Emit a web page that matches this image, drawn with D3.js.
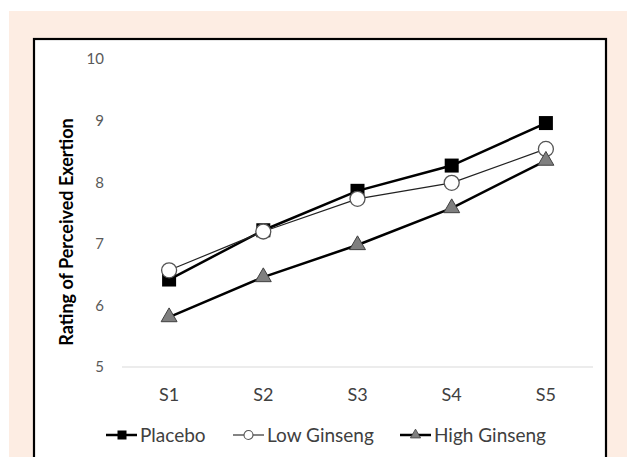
<!DOCTYPE html>
<html>
<head>
<meta charset="utf-8">
<script src="https://cdn.jsdelivr.net/npm/d3@7"></script>
<style>
  body { margin: 0; background: #ffffff; }
  svg { display: block; font-family: Lato, "Open Sans", sans-serif; }
</style>
</head>
<body>
<svg id="chart" width="627" height="457"></svg>
<script>
var sessions = ["S1", "S2", "S3", "S4", "S5"];
var yTicks = [5, 6, 7, 8, 9, 10];
var placebo = [6.42, 7.22, 7.86, 8.27, 8.96];
var lowGinseng = [6.57, 7.20, 7.73, 7.99, 8.54];
var highGinseng = [5.81, 6.46, 6.98, 7.58, 8.35];
var seriesNames = ["Placebo", "Low Ginseng", "High Ginseng"];

var svg = d3.select("#chart");

// peach page background and white chart frame
svg.append("rect").attr("x", 9).attr("y", 11).attr("width", 618).attr("height", 446).attr("fill", "#fdede3");
svg.append("rect").attr("x", 34).attr("y", 39).attr("width", 572).attr("height", 430)
    .attr("fill", "#ffffff").attr("stroke", "#000").attr("stroke-width", 2.2);

var x = d3.scaleBand().domain(sessions).range([122, 593]);
var y = d3.scaleLinear().domain([5, 10]).range([367, 59]);

// baseline
svg.append("line").attr("x1", 122).attr("x2", 593).attr("y1", y(5)).attr("y2", y(5))
    .attr("stroke", "#d9d9d9").attr("stroke-width", 1);

var yAxis = svg.append("g").attr("transform", "translate(104,0)")
    .call(d3.axisLeft(y).tickValues(yTicks).tickFormat(d3.format("d")).tickSize(0).tickPadding(0));
yAxis.select(".domain").remove();
yAxis.selectAll("text").attr("font-size", 15).attr("fill", "#595959").attr("font-family", "Lato, sans-serif");

var xAxis = svg.append("g").attr("transform", "translate(0," + y(5) + ")")
    .call(d3.axisBottom(x).tickSize(0).tickPadding(21));
xAxis.select(".domain").remove();
xAxis.selectAll("text").attr("font-size", 18).attr("fill", "#404040").attr("font-family", "Lato, sans-serif");

svg.append("text")
    .attr("transform", "translate(73,232) rotate(-90)")
    .attr("text-anchor", "middle")
    .attr("font-size", 18).attr("font-weight", "bold").attr("fill", "#000")
    .text("Rating of Perceived Exertion");

var line = d3.line()
    .x(function (d, i) { return x(sessions[i]) + x.bandwidth() / 2; })
    .y(function (d) { return y(d); });

function cx(i) { return x(sessions[i]) + x.bandwidth() / 2; }

// Placebo
svg.append("path").datum(placebo).attr("d", line)
    .attr("fill", "none").attr("stroke", "#000").attr("stroke-width", 2.5);
svg.append("g").selectAll("rect").data(placebo).enter().append("rect")
    .attr("x", function (d, i) { return cx(i) - 7; })
    .attr("y", function (d) { return y(d) - 7; })
    .attr("width", 14).attr("height", 14).attr("fill", "#000");

// Low Ginseng
svg.append("path").datum(lowGinseng).attr("d", line)
    .attr("fill", "none").attr("stroke", "#222").attr("stroke-width", 1.2);
svg.append("g").selectAll("circle").data(lowGinseng).enter().append("circle")
    .attr("cx", function (d, i) { return cx(i); })
    .attr("cy", function (d) { return y(d); })
    .attr("r", 7.5).attr("fill", "#fff").attr("stroke", "#555").attr("stroke-width", 1.3);

// High Ginseng
var tri = d3.symbol().type(d3.symbolTriangle).size(110);
svg.append("path").datum(highGinseng).attr("d", line)
    .attr("fill", "none").attr("stroke", "#000").attr("stroke-width", 2.5);
svg.append("g").selectAll("path").data(highGinseng).enter().append("path")
    .attr("d", tri)
    .attr("transform", function (d, i) { return "translate(" + cx(i) + "," + y(d) + ")"; })
    .attr("fill", "#7f7f7f").attr("stroke", "#404040").attr("stroke-width", 1);

// legend
var legendX = [106, 233, 400];
var legend = svg.append("g").selectAll("g").data(seriesNames).enter().append("g")
    .attr("transform", function (d, i) { return "translate(" + legendX[i] + ",435)"; });
legend.append("line").attr("x1", 0).attr("x2", 31).attr("y1", 0).attr("y2", 0)
    .attr("stroke", function (d, i) { return i === 1 ? "#333" : "#000"; })
    .attr("stroke-width", function (d, i) { return i === 1 ? 1.2 : 2.5; });
legend.each(function (d, i) {
    var g = d3.select(this);
    if (i === 0) {
        g.append("rect").attr("x", 11.5).attr("y", -4.5).attr("width", 9).attr("height", 9).attr("fill", "#000");
    } else if (i === 1) {
        g.append("circle").attr("cx", 15.5).attr("cy", 0).attr("r", 4.5)
            .attr("fill", "#fff").attr("stroke", "#555").attr("stroke-width", 1.1);
    } else {
        g.append("path").attr("d", d3.symbol().type(d3.symbolTriangle).size(45))
            .attr("transform", "translate(15.5,0)")
            .attr("fill", "#7f7f7f").attr("stroke", "#404040").attr("stroke-width", 0.8);
    }
});
legend.append("text").attr("x", 34).attr("y", 0).attr("dy", "0.35em")
    .attr("font-size", 19).attr("fill", "#404040")
    .text(function (d) { return d; });
</script>
</body>
</html>
